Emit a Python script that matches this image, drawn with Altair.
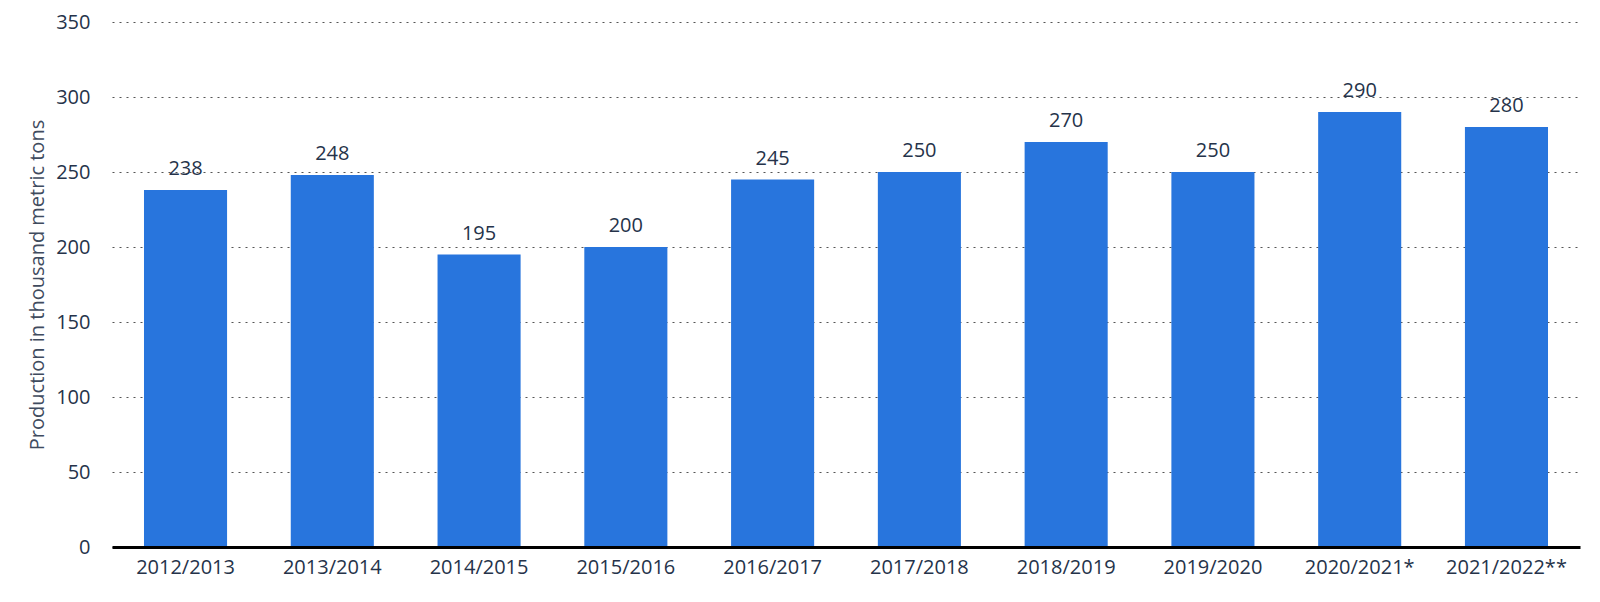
import altair as alt
import pandas as pd

seasons = ["2012/2013", "2013/2014", "2014/2015", "2015/2016", "2016/2017",
           "2017/2018", "2018/2019", "2019/2020", "2020/2021*", "2021/2022**"]
production = [238, 248, 195, 200, 245, 250, 270, 250, 290, 280]
y_ticks = [0, 50, 100, 150, 200, 250, 300, 350]

df = pd.DataFrame({"season": seasons, "value": production})

FONT = "Open Sans"
TXT = "#25334a"

x = alt.X("season:N", sort=seasons, title=None,
          scale=alt.Scale(paddingInner=0.434, paddingOuter=0.218),
          axis=alt.Axis(labelAngle=0, labelFontSize=20, labelColor=TXT, labelFont=FONT,
                        ticks=False, domain=True, domainColor="black", domainWidth=3,
                        labelPadding=10, grid=False, zindex=1))
y = alt.Y("value:Q", title="Production in thousand metric tons",
          scale=alt.Scale(domain=[0, 350], nice=False),
          axis=alt.Axis(values=y_ticks, labelFontSize=20, labelColor=TXT, labelFont=FONT,
                        ticks=False, domain=False, labelPadding=22,
                        titleFontSize=20, titleFont=FONT, titleColor="#3f4b5e",
                        titleFontWeight="normal", titlePadding=8,
                        grid=True, gridDash=[2, 5], gridColor="#555", gridWidth=1.2))

bars = alt.Chart(df).mark_bar(color="#2875dd").encode(x=x, y=y)
labels = alt.Chart(df).mark_text(baseline="alphabetic", dy=-15, fontSize=20,
                                 font=FONT, color=TXT).encode(
    x=alt.X("season:N", sort=seasons),
    y=alt.Y("value:Q"),
    text="value:Q")

chart = alt.layer(bars, labels).properties(
    width=1468, height=525,
    background="white",
    autosize=alt.AutoSizeParams(type="none"),
    padding={"left": 104, "top": 14, "right": 12, "bottom": 40},
).configure_view(strokeWidth=0)

chart.save("out.html", embed_options={"renderer": "svg", "actions": False})
